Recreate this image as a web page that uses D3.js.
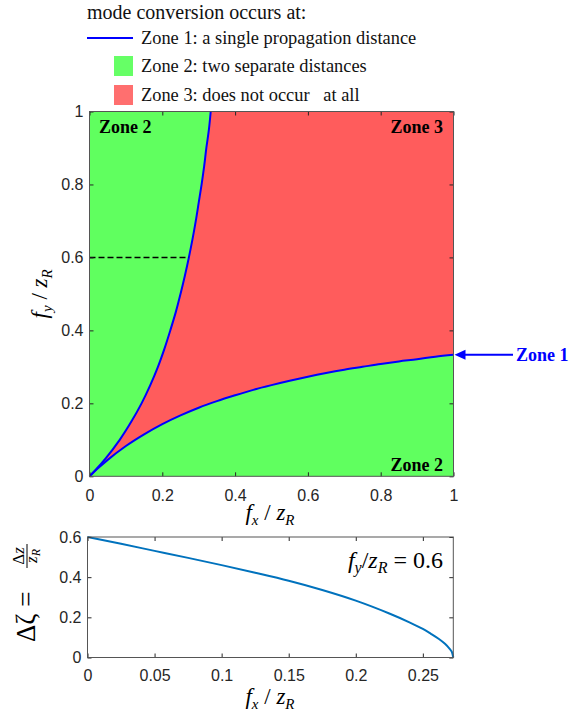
<!DOCTYPE html>
<html>
<head>
<meta charset="utf-8">
<script src="https://cdn.jsdelivr.net/npm/d3@7"></script>
<style>
  body { margin: 0; background: #fff; }
  svg { display: block; }
  .tick text { font-family: "Liberation Sans", Arial, sans-serif; font-size: 16px; fill: #262626; }
  .tick line { stroke: #262626; }
  .serif, .serif text, .serif tspan { font-family: "Liberation Serif", "Times New Roman", serif; }
</style>
</head>
<body>
<div id="chart"></div>
<script>
// zone map ticks
const mapTicksX = [0, 0.2, 0.4, 0.6, 0.8, 1];
const mapTicksY = [0, 0.2, 0.4, 0.6, 0.8, 1];
// lower zone-1 boundary, read along f_x
const lowerFx = [0, 0.02, 0.05, 0.1, 0.15, 0.2, 0.25, 0.3, 0.35, 0.4, 0.45, 0.5, 0.55, 0.6, 0.65, 0.7, 0.75, 0.8, 0.85, 0.9, 0.95, 1];
const lowerFy = [0, 0.019, 0.045, 0.083, 0.115, 0.143, 0.167, 0.188, 0.206, 0.222, 0.237, 0.25, 0.262, 0.273, 0.283, 0.292, 0.3, 0.308, 0.315, 0.321, 0.328, 0.333];
// upper zone-1 boundary, read along f_y
const upperFy = [0, 0.02, 0.05, 0.1, 0.15, 0.2, 0.25, 0.3, 0.35, 0.4, 0.45, 0.5, 0.55, 0.6, 0.65, 0.7, 0.75, 0.8, 0.85, 0.9, 0.95, 1];
const upperFx = [0, 0.019, 0.045, 0.083, 0.115, 0.143, 0.167, 0.188, 0.206, 0.222, 0.237, 0.25, 0.262, 0.273, 0.283, 0.292, 0.3, 0.308, 0.315, 0.321, 0.328, 0.333];
// dashed cut at f_y = 0.6
const cutFy = 0.6;
const cutFxEnd = 0.2727;
// lower panel: delta zeta along the cut
const cutTicksX = [0, 0.05, 0.1, 0.15, 0.2, 0.25];
const cutTicksY = [0, 0.2, 0.4, 0.6];
const cutFx = [0, 0.025, 0.05, 0.075, 0.1, 0.125, 0.15, 0.175, 0.2, 0.225, 0.24, 0.25, 0.256, 0.262, 0.2665, 0.27, 0.2715, 0.2727];
const cutDz = [0.6, 0.566, 0.531, 0.496, 0.46, 0.422, 0.382, 0.336, 0.283, 0.219, 0.175, 0.142, 0.118, 0.092, 0.068, 0.043, 0.03, 0];

const legendTitle = 'mode conversion occurs at:';
const legendItems = [
  {kind: 'line', color: '#0000ff', label: 'Zone 1: a single propagation distance'},
  {kind: 'box', color: '#66ff66', label: 'Zone 2: two separate distances'},
  {kind: 'box', color: '#ff6f6f', label: 'Zone 3: does not occur \u00a0 at all'}
];

const W = 570, H = 715;
const green = '#60ff5f', red = '#ff5c5c', axisCol = '#555';
const SERIF = '"Liberation Serif", "Times New Roman", serif';

const svg = d3.select('#chart').append('svg')
  .attr('width', W).attr('height', H);

// ---------- legend ----------
const leg = svg.append('g').attr('class', 'serif').attr('font-family', SERIF).style('fill', '#111');
leg.append('text').attr('x', 87).attr('y', 19).style('font-size', '20px').text(legendTitle);
legendItems.forEach((d, i) => {
  const cy = [38, 66, 95][i];
  if (d.kind === 'line')
    leg.append('line').attr('x1', 87).attr('x2', 133).attr('y1', cy).attr('y2', cy)
      .attr('stroke', d.color).attr('stroke-width', 2);
  else
    leg.append('rect').attr('x', 114).attr('y', cy - 10).attr('width', 19).attr('height', 20)
      .attr('fill', d.color);
  leg.append('text').attr('x', 141).attr('y', cy + 6).style('font-size', '18.4px').text(d.label);
});

// ---------- zone map ----------
const m = {left: 89.5, right: 453.5, top: 111.5, bottom: 476.3};
const x = d3.scaleLinear().domain([0, 1]).range([m.left, m.right]);
const y = d3.scaleLinear().domain([0, 1]).range([m.bottom, m.top]);

const mapG = svg.append('g');
mapG.append('rect').attr('x', m.left).attr('y', m.top)
  .attr('width', m.right - m.left).attr('height', m.bottom - m.top).attr('fill', green);

const upperPts = upperFy.map((fy, i) => [upperFx[i], fy]);
const lowerPts = lowerFx.map((fx, i) => [fx, lowerFy[i]]);
const lineY = d3.line().x(d => x(d[0])).y(d => y(d[1])).curve(d3.curveMonotoneY);
const lineX = d3.line().x(d => x(d[0])).y(d => y(d[1])).curve(d3.curveMonotoneX);

// red zone between the two boundaries
const redPath = lineY(upperPts) +
  `L${x(1)},${y(1)}L${x(1)},${y(lowerFy[lowerFy.length - 1])}` +
  lineX(lowerPts.slice().reverse()).replace(/^M/, 'L') + 'Z';
mapG.append('path').attr('d', redPath).attr('fill', red);

mapG.append('path').attr('d', lineY(upperPts)).attr('fill', 'none')
  .attr('stroke', '#0000ff').attr('stroke-width', 2);
mapG.append('path').attr('d', lineX(lowerPts)).attr('fill', 'none')
  .attr('stroke', '#0000ff').attr('stroke-width', 2);

mapG.append('line').attr('x1', x(0)).attr('x2', x(cutFxEnd)).attr('y1', y(cutFy)).attr('y2', y(cutFy))
  .attr('stroke', '#000').attr('stroke-width', 1.5).attr('stroke-dasharray', '6,3');

function axes(g, xs, ys, xt, yt, padX, padY) {
  const fmt = d3.format('~g');
  const [x0, x1] = xs.range(), [y0, y1] = ys.range();
  g.append('g').attr('transform', `translate(0,${y0})`)
    .call(d3.axisBottom(xs).tickValues(xt).tickFormat(fmt).tickSizeInner(-4).tickSizeOuter(0).tickPadding(padX))
    .call(s => s.select('.domain').remove());
  g.append('g').attr('transform', `translate(${x0},0)`)
    .call(d3.axisLeft(ys).tickValues(yt).tickFormat(fmt).tickSizeInner(-4).tickSizeOuter(0).tickPadding(padY))
    .call(s => s.select('.domain').remove());
  g.append('g').attr('transform', `translate(0,${y1})`)
    .call(d3.axisTop(xs).tickValues(xt).tickFormat('').tickSizeInner(-4).tickSizeOuter(0))
    .call(s => s.select('.domain').remove());
  g.append('g').attr('transform', `translate(${x1},0)`)
    .call(d3.axisRight(ys).tickValues(yt).tickFormat('').tickSizeInner(-4).tickSizeOuter(0))
    .call(s => s.select('.domain').remove());
  g.append('rect').attr('x', x0).attr('y', y1).attr('width', x1 - x0).attr('height', y0 - y1)
    .attr('fill', 'none').attr('stroke', axisCol).attr('stroke-width', 1);
}
axes(mapG, x, y, mapTicksX, mapTicksY, 13, 6);

// zone annotations
const ann = mapG.append('g').attr('class', 'serif').attr('font-family', SERIF)
  .style('font-size', '18px').style('font-weight', 'bold');
ann.append('text').attr('x', 99).attr('y', 133).text('Zone 2');
ann.append('text').attr('x', 443).attr('y', 133).attr('text-anchor', 'end').text('Zone 3');
ann.append('text').attr('x', 443).attr('y', 471).attr('text-anchor', 'end').text('Zone 2');

const yZ1 = y(lowerFy[lowerFy.length - 1]);
mapG.append('line').attr('x1', 464).attr('x2', 513).attr('y1', yZ1).attr('y2', yZ1)
  .attr('stroke', '#0000ff').attr('stroke-width', 2);
mapG.append('path').attr('d', `M${x(1) + 1},${yZ1}L${x(1) + 12},${yZ1 - 5}L${x(1) + 12},${yZ1 + 5}Z`)
  .attr('fill', '#0000ff');
ann.append('text').attr('x', 516).attr('y', yZ1 + 6).style('fill', '#0000ff').text('Zone 1');

// axis labels, LaTeX style
function fracLabel(g, sub) {
  g.attr('font-family', SERIF);
  g.append('tspan').style('font-style', 'italic').text('f');
  g.append('tspan').style('font-style', 'italic').style('font-size', '15px').attr('dy', 5).text(sub);
  g.append('tspan').attr('dy', -5).text(' / ');
  g.append('tspan').style('font-style', 'italic').text('z');
  g.append('tspan').style('font-style', 'italic').style('font-size', '15px').attr('dy', 5).text('R');
}
fracLabel(svg.append('text').attr('class', 'serif').style('font-size', '23px')
  .attr('x', 270).attr('y', 520).attr('text-anchor', 'middle'), 'x');
fracLabel(svg.append('text').attr('class', 'serif').style('font-size', '23px')
  .attr('transform', `translate(47,${(m.top + m.bottom) / 2}) rotate(-90)`)
  .attr('text-anchor', 'middle'), 'y');

// ---------- delta zeta panel ----------
const b = {left: 87.5, right: 453.3, top: 537, bottom: 657.5};
const xb = d3.scaleLinear().domain([0, cutFxEnd]).range([b.left, b.right]);
const yb = d3.scaleLinear().domain([0, 0.6]).range([b.bottom, b.top]);
const bot = svg.append('g');
bot.append('path')
  .attr('d', d3.line().x((d, i) => xb(cutFx[i])).y(d => yb(d)).curve(d3.curveCatmullRom.alpha(0.5))(cutDz))
  .attr('fill', 'none').attr('stroke', '#0072bd').attr('stroke-width', 2);
axes(bot, xb, yb, cutTicksX, cutTicksY, 12, 6);

const cutLab = bot.append('text').attr('class', 'serif').attr('font-family', SERIF).style('font-size', '24px')
  .attr('x', 443).attr('y', 568).attr('text-anchor', 'end');
cutLab.append('tspan').style('font-style', 'italic').text('f');
cutLab.append('tspan').style('font-style', 'italic').style('font-size', '16px').attr('dy', 5).text('y');
cutLab.append('tspan').attr('dy', -5).text('/');
cutLab.append('tspan').style('font-style', 'italic').text('z');
cutLab.append('tspan').style('font-style', 'italic').style('font-size', '16px').attr('dy', 5).text('R');
cutLab.append('tspan').attr('dy', -5).text(' = 0.6');

fracLabel(svg.append('text').attr('class', 'serif').style('font-size', '23px')
  .attr('x', 270).attr('y', 704).attr('text-anchor', 'middle'), 'x');

// delta zeta = delta z / z_R, rotated
const dl = svg.append('g').attr('class', 'serif').attr('font-family', SERIF)
  .attr('transform', 'translate(35,642) rotate(-90)');
dl.append('text').style('font-size', '27px').attr('x', 0).attr('y', 0).text('\u0394\u03b6 =');
const fx0 = 74, fw = 24;
dl.append('line').attr('x1', fx0).attr('x2', fx0 + fw).attr('y1', -8).attr('y2', -8)
  .attr('stroke', '#000').attr('stroke-width', 1);
dl.append('text').style('font-size', '17px').attr('x', fx0 + fw / 2).attr('y', -11)
  .attr('text-anchor', 'middle')
  .call(t => { t.append('tspan').text('\u0394'); t.append('tspan').style('font-style', 'italic').text('z'); });
dl.append('text').style('font-size', '17px').attr('x', fx0 + fw / 2).attr('y', 2)
  .attr('text-anchor', 'middle')
  .call(t => {
    t.append('tspan').style('font-style', 'italic').text('z');
    t.append('tspan').style('font-style', 'italic').style('font-size', '12px').attr('dy', 3).text('R');
  });
</script>
</body>
</html>
